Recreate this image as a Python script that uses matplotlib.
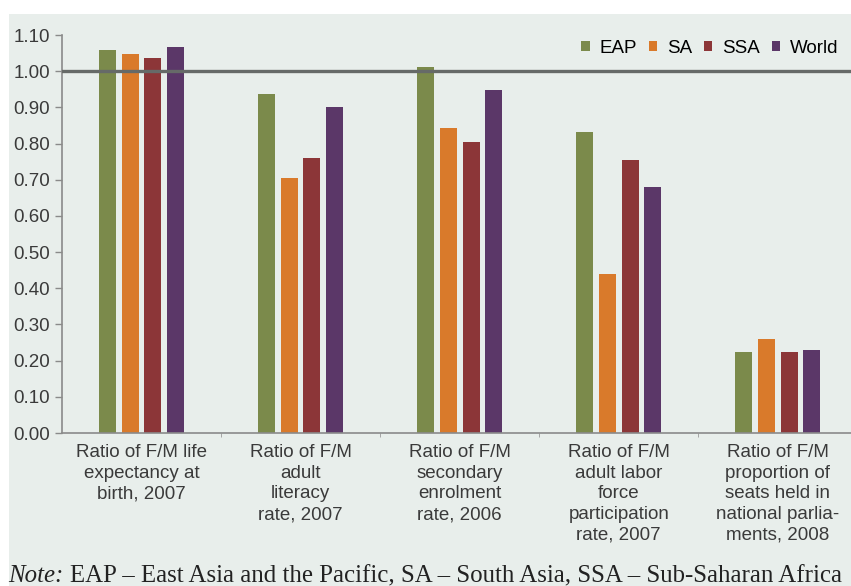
import numpy as np
import matplotlib.pyplot as plt
from matplotlib.patches import Rectangle

categories = [
    "Ratio of F/M life\nexpectancy at\nbirth, 2007",
    "Ratio of F/M\nadult\nliteracy\nrate, 2007",
    "Ratio of F/M\nsecondary\nenrolment\nrate, 2006",
    "Ratio of F/M\nadult labor\nforce\nparticipation\nrate, 2007",
    "Ratio of F/M\nproportion of\nseats held in\nnational parlia-\nments, 2008",
]
regions = ["EAP", "SA", "SSA", "World"]
eap = [1.058, 0.938, 1.012, 0.833, 0.225]
sa = [1.047, 0.705, 0.842, 0.439, 0.259]
ssa = [1.037, 0.760, 0.804, 0.754, 0.225]
world = [1.066, 0.900, 0.949, 0.680, 0.229]
yticks = np.arange(0, 1.11, 0.1)

colors = ["#7b8a4b", "#d97a2b", "#8c3638", "#5b3768"]
bg = "#e8eeeb"
txt = "#3a3a3a"
fs = 13.5

fig = plt.figure(figsize=(8.51, 5.86), dpi=100)
fig.patches.append(Rectangle((9 / 851, 0), 1, 1 - 14 / 586, transform=fig.transFigure,
                             facecolor=bg, edgecolor="none", zorder=-5))

ax = fig.add_axes([62 / 851, 153 / 586, 1 - 62 / 851, 398 / 586])
ax.set_zorder(2)
ax.patch.set_alpha(0)

x = np.arange(len(categories))
pitch = 0.143
width = 0.107
series = [eap, sa, ssa, world]
for i, (vals, name) in enumerate(zip(series, regions)):
    ax.bar(x + (i - 1.5) * pitch, vals, width, color=colors[i], label=name, zorder=2)

ax.axhline(1.0, color="#666a68", lw=2.4, zorder=3)

ax.set_xlim(-0.5, 4.46)
ax.set_ylim(0, 1.1)
ax.set_yticks(yticks)
ax.set_yticklabels([f"{v:.2f}" for v in yticks], fontsize=fs, color=txt,
                   family="Liberation Sans")
ax.tick_params(axis="y", length=5, width=1, color="#8a8a8a", pad=3.5)

ax.set_xticks(x)
ax.set_xticklabels(categories, fontsize=fs, color=txt, family="Liberation Sans",
                   linespacing=1.28)
ax.tick_params(axis="x", which="major", length=0, pad=8)
ax.set_xticks(x[:-1] + 0.5, minor=True)
ax.tick_params(axis="x", which="minor", length=3, color="#9a9a9a", direction="out")

for s in ["top", "right"]:
    ax.spines[s].set_visible(False)
for s in ["left", "bottom"]:
    ax.spines[s].set_color("#8a8a8a")
    ax.spines[s].set_linewidth(1.2)

ax.legend(loc="upper right", ncol=4, frameon=False,
          handlelength=0.45, handleheight=0.45, handletextpad=0.5, columnspacing=0.65,
          bbox_to_anchor=(1.005, 1.03), prop={"family": "Liberation Sans", "size": fs})

note = fig.text(8 / 851, 4 / 586, "Note:", fontsize=17.9, family="Liberation Serif",
                style="italic", color="#222222", va="baseline")
ann = ax.annotate("EAP – East Asia and the Pacific, SA – South Asia, SSA – Sub-Saharan Africa",
                  xy=(1, 0), xycoords=note, xytext=(5, 0), textcoords="offset points",
                  fontsize=17.9, family="Liberation Serif", color="#222222",
                  va="bottom", ha="left", annotation_clip=False)
ann.set_clip_on(False)

fig.savefig("out.png", dpi=100, facecolor="white")
